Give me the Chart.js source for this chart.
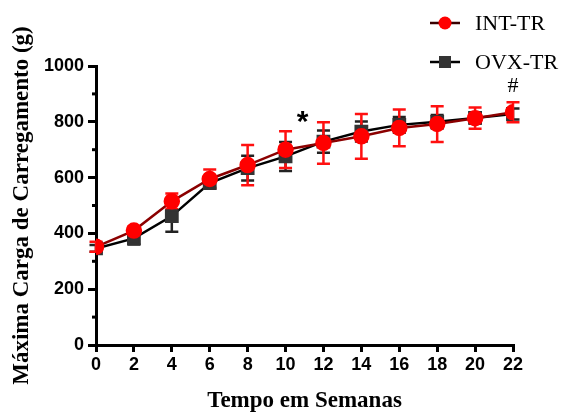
<!DOCTYPE html>
<html>
<head>
<meta charset="utf-8">
<script src="https://cdn.jsdelivr.net/npm/chart.js@4.4.1/dist/chart.umd.min.js"></script>
<style>
  html, body { margin: 0; padding: 0; background: #fff; }
  #wrap { width: 563px; height: 415px; }
</style>
</head>
<body>
<div id="wrap"><canvas id="chart" width="563" height="415"></canvas></div>
<script>
// weeks and mean max load (g)
const weeks = [0, 2, 4, 6, 8, 10, 12, 14, 16, 18, 20, 22]
const intTr = [352, 410, 515, 595, 645, 700, 724, 748, 778, 792, 813, 834]
const intSd = [18, 15, 28, 34, 72, 66, 74, 80, 66, 64, 38, 36]
const ovxTr = [346, 382, 462, 580, 634, 676, 729, 765, 789, 800, 814, 828]
const ovxSd = [12, 22, 56, 16, 44, 52, 40, 36, 28, 24, 20, 20]
const yTicks = [0, 200, 400, 600, 800, 1000]
const marks = [{ x: 10.9, y: 818, text: '*' }, { x: 22, y: 926, text: '#' }]

const toPts = (ys) => weeks.map((w, i) => ({ x: w, y: ys[i] }))

// error bars drawn behind the markers, through the chart scales
const errorBars = {
  id: 'errorBars',
  beforeDatasetsDraw(chart) {
    const { ctx, scales: { x, y } } = chart
    const sets = [[ovxTr, ovxSd, '#222'], [intTr, intSd, '#ff1010']]
    ctx.save()
    sets.forEach(([vals, sd, color]) => {
      ctx.strokeStyle = color
      ctx.lineWidth = 2.5
      weeks.forEach((w, i) => {
        const px = x.getPixelForValue(w)
        const top = y.getPixelForValue(vals[i] + sd[i])
        const bot = y.getPixelForValue(vals[i] - sd[i])
        ctx.beginPath()
        ctx.moveTo(px, top); ctx.lineTo(px, bot)
        ctx.moveTo(px - 6.5, top); ctx.lineTo(px + 6.5, top)
        ctx.moveTo(px - 6.5, bot); ctx.lineTo(px + 6.5, bot)
        ctx.stroke()
      })
    })
    ctx.restore()
  }
}

// minor y ticks, significance marks and the legend
const extras = {
  id: 'extras',
  afterDraw(chart) {
    const { ctx, scales: { x, y }, chartArea } = chart
    ctx.save()
    ctx.strokeStyle = '#000'
    ctx.lineWidth = 3
    for (let v = 100; v < 1000; v += 200) {
      const py = y.getPixelForValue(v)
      ctx.beginPath()
      ctx.moveTo(chartArea.left - 4, py)
      ctx.lineTo(chartArea.left, py)
      ctx.stroke()
    }

    ctx.fillStyle = '#000'
    ctx.textAlign = 'center'
    ctx.textBaseline = 'middle'
    marks.forEach(m => {
      ctx.font = m.text === '*' ? 'bold 30px "Liberation Sans"' : '22px "Liberation Serif"'
      const dy = m.text === '*' ? 6 : 0
      ctx.fillText(m.text, x.getPixelForValue(m.x), y.getPixelForValue(m.y) + dy)
    })

    // legend
    const rows = [
      { label: 'INT-TR', line: '#3a0000', fill: '#ff0000', shape: 'circle', y: 23 },
      { label: 'OVX-TR', line: '#000', fill: '#333', shape: 'rect', y: 62 }
    ]
    ctx.textAlign = 'left'
    ctx.font = '22px "Liberation Serif"'
    rows.forEach(r => {
      ctx.strokeStyle = r.line
      ctx.lineWidth = 2.5
      ctx.beginPath()
      ctx.moveTo(430, r.y); ctx.lineTo(460, r.y)
      ctx.stroke()
      ctx.fillStyle = r.fill
      if (r.shape === 'circle') {
        ctx.beginPath(); ctx.arc(445, r.y, 6.5, 0, Math.PI * 2); ctx.fill()
      } else {
        ctx.fillRect(439, r.y - 6, 12, 12)
      }
      ctx.fillStyle = '#000'
      ctx.fillText(r.label, 475, r.y + 1)
    })
    ctx.restore()
  }
}

const tickFont = { family: '"Liberation Sans", Arial, sans-serif', size: 18, weight: 'bold' }
const titleFont = { family: '"Liberation Serif", "Times New Roman", serif', size: 23, weight: 'bold' }

new Chart(document.getElementById('chart'), {
  type: 'line',
  data: {
    datasets: [
      {
        label: 'INT-TR',
        data: toPts(intTr),
        borderColor: '#8b0000',
        backgroundColor: '#ff0000',
        pointBackgroundColor: '#ff0000',
        pointBorderColor: '#ff0000',
        pointStyle: 'circle',
        pointRadius: 7,
        borderWidth: 2.5,
        tension: 0
      },
      {
        label: 'OVX-TR',
        data: toPts(ovxTr),
        borderColor: '#000',
        backgroundColor: '#333',
        pointBackgroundColor: '#333',
        pointBorderColor: '#333',
        pointStyle: 'rect',
        pointRadius: 8,
        borderWidth: 2.5,
        tension: 0
      }
    ]
  },
  options: {
    responsive: false,
    animation: false,
    layout: { padding: { top: 66, right: 50, left: 0, bottom: 0 } },
    plugins: {
      legend: { display: false },
      tooltip: { enabled: false }
    },
    scales: {
      x: {
        type: 'linear',
        min: 0,
        max: 22,
        ticks: { stepSize: 2, color: '#000', font: tickFont, padding: 2 },
        grid: { drawOnChartArea: false, drawTicks: true, tickLength: 7, color: '#000', lineWidth: 3 },
        border: { color: '#000', width: 3 },
        title: { display: true, text: 'Tempo em Semanas', color: '#000', font: titleFont, padding: { top: 0, bottom: 0 } },
        afterFit(s) { s.height = 70 }
      },
      y: {
        min: 0,
        max: 1000,
        afterBuildTicks(s) { s.ticks = yTicks.map(v => ({ value: v })) },
        ticks: { color: '#000', font: tickFont, padding: 4, callback: (v) => String(v) },
        grid: { drawOnChartArea: false, drawTicks: true, tickLength: 8, color: '#000', lineWidth: 3 },
        border: { color: '#000', width: 3 },
        title: { display: true, text: 'Máxima Carga de Carregamento (g)', color: '#000', font: titleFont, padding: { top: 8, bottom: 0 } },
        afterFit(s) { s.width = 96 }
      }
    }
  },
  plugins: [errorBars, extras]
})
</script>
</body>
</html>
